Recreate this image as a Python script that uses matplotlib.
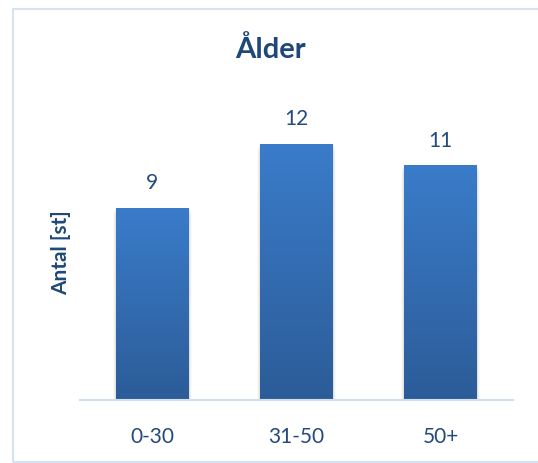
import matplotlib
matplotlib.use("Agg")
import matplotlib.pyplot as plt
import numpy as np
from matplotlib.patches import Rectangle
from matplotlib.colors import LinearSegmentedColormap

categories = ["0-30", "31-50", "50+"]
values = [9, 12, 11]
title = "Ålder"
ylabel = "Antal [st]"

W, H = 538, 464
fig = plt.figure(figsize=(W / 100, H / 100), dpi=100)
fig.patch.set_facecolor("white")

# outer chart border
fig.add_artist(Rectangle((13 / W, 1 / H), (W + 10 - 13) / W, (H - 10 - 1) / H,
                         transform=fig.transFigure, fill=False,
                         edgecolor="#D6E1F1", linewidth=1.5))

left, right = 80 / W, 513 / W
bottom, top = 1 - 401 / H, 1 - 102 / H
ax = fig.add_axes([left, bottom, right - left, top - bottom])
ax.set_xlim(-0.5, 2.5)
ax.set_ylim(0, 14)

txt = "#234A7A"
font = "Lato"

x = np.arange(len(categories))
bars = ax.bar(x, values, width=0.505, color="#3369B0", zorder=3)

cmap = LinearSegmentedColormap.from_list("g", ["#2C5C98", "#3A7CCA"])
grad = np.linspace(0, 1, 256).reshape(-1, 1)
for b in bars:
    bx, bw, bh = b.get_x(), b.get_width(), b.get_height()
    # soft shadow
    for i, a in enumerate([0.06, 0.04, 0.02]):
        d = 0.012 * (i + 1)
        ax.add_patch(Rectangle((bx - d * 0.6, -0.12 * (i + 1)), bw + 2 * d * 0.6, bh + 0.05,
                               facecolor="black", alpha=a, edgecolor="none", zorder=2))
    im = ax.imshow(grad, extent=(bx, bx + bw, 0, bh), origin="lower", cmap=cmap,
                   aspect="auto", zorder=4)
    im.set_clip_path(b)
    ax.text(b.get_x() + bw / 2, bh + 0.72, str(int(bh)), ha="center", va="bottom",
            fontsize=15, color=txt, family=font, zorder=5)

ax.set_xlim(-0.5, 2.5)
ax.set_ylim(0, 14)
for s in ["top", "right", "left"]:
    ax.spines[s].set_visible(False)
ax.spines["bottom"].set_color("#D3DEEF")
ax.spines["bottom"].set_linewidth(1.5)
ax.spines["bottom"].set_zorder(6)
ax.set_yticks([])
ax.set_xticks(x)
ax.set_xticklabels(categories, fontsize=15, color=txt, family=font)
ax.tick_params(axis="x", length=0, pad=19)
ax.set_facecolor("none")

fig.text(270 / W, 1 - 50 / H, title, ha="center", va="center", fontsize=21,
         fontweight="bold", color="#1F4878", family=font)
fig.text(61 / W, 1 - 253 / H, ylabel, ha="center", va="center", rotation=90,
         fontsize=15, fontweight="bold", color="#1F4878", family=font)

fig.savefig("out.png", dpi=100, facecolor="white")
